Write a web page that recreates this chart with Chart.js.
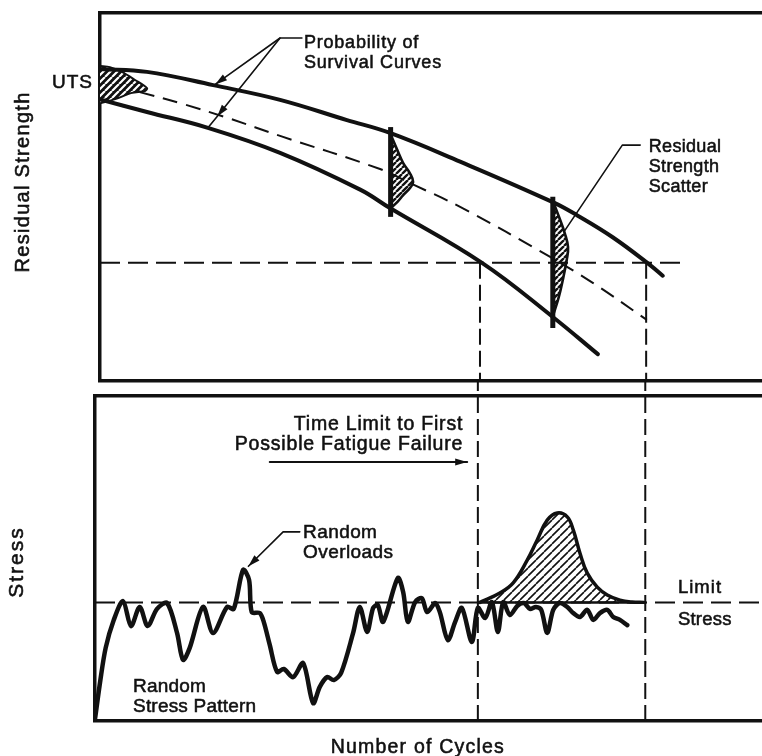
<!DOCTYPE html>
<html>
<head>
<meta charset="utf-8">
<script src="https://cdn.jsdelivr.net/npm/chart.js@4.4.1/dist/chart.umd.min.js"></script>
<style>
  html, body { margin: 0; padding: 0; background: #fff; }
  #wrap { position: relative; width: 762px; height: 756px; }
  #wrap canvas { position: absolute; left: 0; top: 0; }
</style>
</head>
<body>
<div id="wrap">
  <canvas id="stressPanel" width="762" height="756"></canvas>
  <canvas id="strengthPanel" width="762" height="756"></canvas>
</div>
<script>
// ---------- Residual strength panel (x: cycles, y: strength, both 0..100) ----------
const upperSurvival = [[0,84.8],[7.1,84.0],[17.1,80.4],[27.2,76.4],[37.3,70.9],[43.8,67.4],[54.4,59.6],[68.4,48.6],[72.1,45.0],[77.5,39.0],[83.1,31.5],[85.0,28.6]];
const lowerSurvival = [[0,76.5],[7.1,73.1],[16.3,68.8],[27.2,62.0],[39.3,52.0],[43.8,47.0],[57.7,32.1],[68.4,17.4],[75.2,7.3]];
const medianStrength = [[6.0,78.5],[12.1,75.5],[19.6,71.3],[27.2,66.6],[42.3,57.6],[46.8,53.8],[54.4,47.3],[68.0,33.7],[74.5,26.6],[82.6,16.6]];
const utsScatter = [[0,85.6],[1.5,85.3],[3.3,84.0],[5.3,81.8],[7.1,79.6],[6.8,78.8],[4.8,78.3],[2.3,76.6],[0,75.5]];
const scatterMidLife = [[43.9,67.0],[44.9,62.8],[45.8,59.2],[46.8,56.5],[47.3,54.1],[46.8,52.4],[45.8,50.5],[44.9,48.6],[43.9,47.0]];
const scatterLateLife = [[68.4,49.0],[69.5,43.8],[70.2,40.2],[70.7,36.4],[70.5,32.9],[69.9,27.4],[69.3,22.8],[68.4,17.5]];
const scatterBars = [[43.9,44.6,69.0],[68.4,14.4,50.1]];          // cycle, low, high
const limitStrength = 32.1;
const limitStrengthSpan = [0, 88.1];
const failureCycles = [57.4, 82.5];                              // first / last possible failure
const survivalLeaderA = [[30.5,93.2],[27.2,93.2],[17.4,80.6]];
const survivalLeaderB = [[27.2,93.2],[17.7,71.9],[16.3,68.8]];
const scatterLeader = [[81.6,64.1],[78.9,64.1],[70.1,40.6]];

// ---------- Stress panel (x: cycles, y: stress, both 0..100) ----------
const stressPattern = [[0,0.6],[0.8,12.5],[1.6,22.5],[2.8,31.0],[4.2,36.9],[5.4,29.2],[6.7,35.1],[7.9,29.2],[9.3,34.5],[10.8,36.3],[12.3,27.1],[13.2,18.8],[14.2,22.5],[16.2,35.1],[17.7,27.1],[19.8,35.1],[20.8,34.5],[22.2,46.5],[23.1,43.4],[23.5,33.5],[24.7,33.2],[25.3,30.5],[26.2,23.4],[27.3,15.1],[28.3,16.0],[29.7,13.5],[31.2,17.8],[32.7,5.5],[33.7,10.5],[34.8,13.5],[35.8,12.6],[36.9,14.8],[38.7,27.1],[39.7,35.1],[40.8,27.4],[41.7,34.8],[42.4,35.7],[43.2,30.5],[45.4,44.0],[46.2,39.7],[46.9,30.5],[48.0,36.6],[49.0,37.8],[49.8,33.5],[51.0,36.3],[51.7,33.5],[52.9,24.9],[54.0,30.5],[55.0,34.8],[56.5,24.3],[57.4,34.8],[58.5,31.7],[59.5,36.6],[60.4,27.4],[61.2,36.6],[62.2,32.6],[63.3,35.4],[64.3,36.3],[65.2,34.5],[66.1,35.1],[66.9,34.2],[67.8,27.1],[68.7,34.2],[69.7,36.3],[70.8,35.1],[71.7,33.2],[72.7,32.0],[73.8,34.2],[74.7,31.1],[75.7,33.2],[76.8,34.2],[77.7,32.0],[78.7,31.1],[79.8,29.5]];
const overloadDistribution = [[57.7,36.5],[60.7,39.4],[62.7,42.5],[64.8,49.5],[66.3,55.7],[67.8,61.8],[69.3,64.0],[70.8,62.8],[71.7,58.8],[72.7,51.7],[73.8,45.5],[75.3,41.2],[76.8,38.8],[78.7,37.2],[80.5,36.6],[82.3,36.5]];
const limitStress = 36.5;
const timeLimitArrow = [[26.2,79.7],[55.8,79.7]];
const overloadLeader = [[30.7,58.2],[28.2,58.2],[23.0,47.6]];

// ---------- helpers ----------
const INK = '#111';
const FONT = '"Liberation Sans", Arial, Helvetica, sans-serif';
const xy = arr => arr.map(([x, y]) => ({ x, y }));

function hatchPattern(ctx, size, width, fg, bg) {
  const c = document.createElement('canvas');
  c.width = c.height = size;
  const g = c.getContext('2d');
  if (bg) { g.fillStyle = bg; g.fillRect(0, 0, size, size); }
  g.strokeStyle = fg; g.lineWidth = width;
  g.beginPath();
  for (const o of [-size, 0, size]) { g.moveTo(o, size); g.lineTo(o + size, 0); }
  g.stroke();
  return ctx.createPattern(c, 'repeat');
}

function line(data, extra) {
  return Object.assign({
    data: xy(data), borderColor: INK, borderWidth: 4, pointRadius: 0,
    fill: false, tension: 0.35, borderJoinStyle: 'round', borderCapStyle: 'round'
  }, extra || {});
}

function frameScales(leftWidth, bottomHeight) {
  const border = { display: true, width: 3.5, color: INK };
  const common = { type: 'linear', min: 0, max: 100, grid: { display: false, drawTicks: false }, ticks: { display: false }, border };
  return {
    x: Object.assign({}, common, { position: 'bottom', afterFit(s) { s.height = bottomHeight; } }),
    xTop: Object.assign({}, common, { position: 'top', afterFit(s) { s.height = 0; } }),
    y: Object.assign({}, common, { position: 'left', afterFit(s) { s.width = leftWidth; } })
  };
}

// closed, hatched regions (scatter distributions)
function hatchPlugin() {
  return {
    id: 'hatchRegions',
    beforeDatasetsDraw(chart) {
      const ctx = chart.ctx;
      chart.data.datasets.forEach((ds, i) => {
        if (!ds.hatch) return;
        const p = chart.getDatasetMeta(i).data;
        ctx.save();
        ctx.beginPath();
        ctx.moveTo(p[0].x, p[0].y);
        for (let k = 1; k < p.length - 1; k++) {
          ctx.quadraticCurveTo(p[k].x, p[k].y, (p[k].x + p[k + 1].x) / 2, (p[k].y + p[k + 1].y) / 2);
        }
        ctx.lineTo(p[p.length - 1].x, p[p.length - 1].y);
        ctx.closePath();
        ctx.fillStyle = ds.hatch;
        ctx.fill();
        ctx.restore();
      });
    }
  };
}

// arrowheads on leader lines
function arrowPlugin() {
  return {
    id: 'arrowHeads',
    afterDatasetsDraw(chart) {
      const ctx = chart.ctx;
      chart.data.datasets.forEach((ds, i) => {
        if (ds.arrowAt === undefined) return;
        const p = chart.getDatasetMeta(i).data;
        const tip = p[ds.arrowAt], from = p[ds.arrowAt - 1];
        const a = Math.atan2(tip.y - from.y, tip.x - from.x);
        ctx.save();
        ctx.translate(tip.x, tip.y);
        ctx.rotate(a);
        ctx.beginPath();
        ctx.moveTo(0, 0); ctx.lineTo(-12, -3.6); ctx.lineTo(-12, 3.6); ctx.closePath();
        ctx.fillStyle = INK; ctx.fill();
        ctx.restore();
      });
    }
  };
}

// text labels placed in data units
function textPlugin(items) {
  return {
    id: 'textLabels',
    afterDraw(chart) {
      const ctx = chart.ctx, xs = chart.scales.x, ys = chart.scales.y;
      items.forEach(it => {
        ctx.save();
        ctx.font = `${it.size}px ${FONT}`;
        ctx.fillStyle = INK;
        ctx.strokeStyle = INK;
        ctx.lineWidth = 0.55;
        if ('letterSpacing' in ctx) ctx.letterSpacing = (it.spacing || 0) + 'px';
        ctx.textAlign = it.align || 'left';
        ctx.textBaseline = it.baseline || 'alphabetic';
        ctx.translate(xs.getPixelForValue(it.x), ys.getPixelForValue(it.y));
        if (it.rotate) ctx.rotate(it.rotate * Math.PI / 180);
        it.lines.forEach((t, k) => {
          ctx.fillText(t, 0, k * (it.gap || 20));
          ctx.strokeText(t, 0, k * (it.gap || 20));
        });
        ctx.restore();
      });
    }
  };
}

const baseOptions = (padding, scales) => ({
  responsive: false, animation: false, devicePixelRatio: 1,
  layout: { padding },
  plugins: { legend: { display: false }, tooltip: { enabled: false } },
  scales
});

// ---------- Stress panel ----------
const stressCtx = document.getElementById('stressPanel').getContext('2d');
const bellHatch = hatchPattern(stressCtx, 8, 1.6, INK, null);

new Chart(stressCtx, {
  type: 'line',
  data: {
    datasets: [
      line(stressPattern, { borderWidth: 4.5, tension: 0.3 }),
      line(overloadDistribution, { borderWidth: 3.5, tension: 0.4, fill: { value: limitStress }, backgroundColor: bellHatch }),
      line([[failureCycles[0], limitStress], [failureCycles[1], limitStress]], { borderWidth: 2.5, tension: 0 }),
      line([[0, limitStress], [100, limitStress]], { borderWidth: 2, tension: 0, borderDash: [20, 8], borderCapStyle: 'butt' }),
      ...failureCycles.map(c => line([[c, 0], [c, 104.7]], { borderWidth: 2, tension: 0, borderDash: [16, 6], borderCapStyle: 'butt', clip: false })),
      line(timeLimitArrow, { borderWidth: 2, tension: 0, arrowAt: 1 }),
      line(overloadLeader, { borderWidth: 1.6, tension: 0, arrowAt: 2 })
    ]
  },
  options: baseOptions({ top: 396, left: 0, right: 0, bottom: 0 }, frameScales(95, 35)),
  plugins: [arrowPlugin(), textPlugin([
    { lines: ['Time Limit to First', 'Possible Fatigue Failure'], x: 55.2, y: 89.5, align: 'right', size: 19.5, spacing: 0.8, gap: 19.5 },
    { lines: ['Random', 'Overloads'], x: 31.2, y: 56.3, size: 19, spacing: 0.4, gap: 20 },
    { lines: ['Random', 'Stress Pattern'], x: 5.7, y: 8.9, size: 19, spacing: 0.2, gap: 20 },
    { lines: ['Limit'], x: 87.4, y: 39.4, size: 18.5, spacing: 1 },
    { lines: ['Stress'], x: 87.4, y: 29.5, size: 18.5, spacing: 0.2 },
    { lines: ['Stress'], x: -11.7, y: 48.9, rotate: -90, align: 'center', baseline: 'middle', size: 21, spacing: 2 },
    { lines: ['Number of Cycles'], x: 48.4, y: -9.8, align: 'center', size: 19.5, spacing: 1.2 }
  ])]
});

// ---------- Residual strength panel ----------
const strengthCtx = document.getElementById('strengthPanel').getContext('2d');
const scatterHatch = hatchPattern(strengthCtx, 6, 2.4, INK, null);
const utsHatch = hatchPattern(strengthCtx, 7, 2.2, '#fff', INK);

new Chart(strengthCtx, {
  type: 'line',
  data: {
    datasets: [
      line(upperSurvival, { borderWidth: 4, tension: 0.4 }),
      line(lowerSurvival, { borderWidth: 4, tension: 0.4 }),
      line(medianStrength, { borderWidth: 2, tension: 0.4, borderDash: [15, 9], borderCapStyle: 'butt' }),
      ...scatterBars.map(([c, lo, hi]) => line([[c, lo], [c, hi]], { borderWidth: 5, tension: 0, borderCapStyle: 'butt' })),
      line(scatterMidLife, { borderWidth: 2.6, tension: 0.4, hatch: scatterHatch }),
      line(scatterLateLife, { borderWidth: 2.6, tension: 0.4, hatch: scatterHatch }),
      line(utsScatter, { borderWidth: 2, tension: 0.3, hatch: utsHatch }),
      line([[limitStrengthSpan[0], limitStrength], [limitStrengthSpan[1], limitStrength]], { borderWidth: 2, tension: 0, borderDash: [20, 8], borderCapStyle: 'butt' }),
      ...failureCycles.map(c => line([[c, limitStrength], [c, 0]], { borderWidth: 2, tension: 0, borderDash: [16, 6], borderCapStyle: 'butt' })),
      line(survivalLeaderA, { borderWidth: 1.6, tension: 0, arrowAt: 2 }),
      line(survivalLeaderB, { borderWidth: 1.6, tension: 0, arrowAt: 1 }),
      line(scatterLeader, { borderWidth: 1.6, tension: 0 })
    ]
  },
  options: baseOptions({ top: 13, left: 0, right: 0, bottom: 375 }, frameScales(100, 0)),
  plugins: [hatchPlugin(), arrowPlugin(), textPlugin([
    { lines: ['UTS'], x: -1.06, y: 79.6, align: 'right', size: 19, spacing: 1 },
    { lines: ['Probability of', 'Survival Curves'], x: 30.8, y: 90.5, size: 18, spacing: 0.8, gap: 20 },
    { lines: ['Residual', 'Strength', 'Scatter'], x: 82.9, y: 62.2, size: 18, spacing: 0.3, gap: 20 },
    { lines: ['Residual Strength'], x: -11.6, y: 54.1, rotate: -90, align: 'center', baseline: 'middle', size: 20, spacing: 1.3 }
  ])]
});
</script>
</body>
</html>
